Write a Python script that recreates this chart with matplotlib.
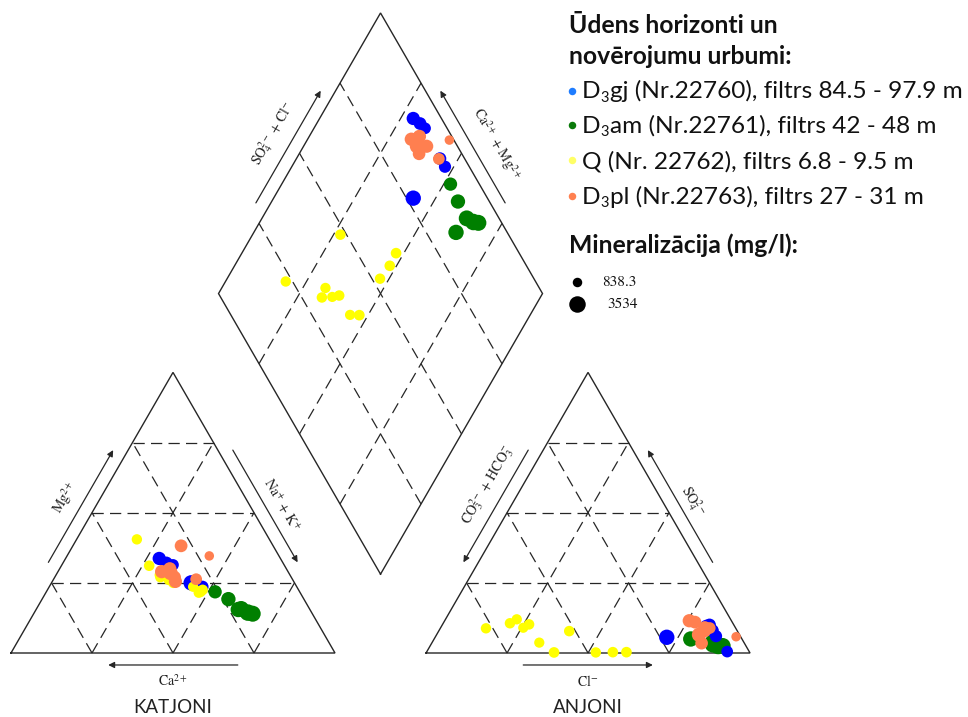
import numpy as np
import matplotlib
matplotlib.use("Agg")
import matplotlib.pyplot as plt

plt.rcParams["mathtext.fontset"] = "stix"

# ---------------------------------------------------------------- data
# Cation shares (% meq): Ca2+, Mg2+, Na+ + K+ ; anion shares: HCO3- + CO3 2-, SO4 2-, Cl-
# Mineralization in mg/l sets the marker size.

# D3gj (Nr.22760)
gj_ca   = [37.4, 36.0, 34.3, 30.3, 29.1, 31.9]
gj_mg   = [33.7, 32.1, 31.4, 25.4, 23.6, 25.0]
gj_nak  = [28.9, 31.9, 34.3, 44.3, 47.3, 43.1]
gj_hco3 = [8.7, 7.5, 6.8, 7.6, 7.5, 22.9]
gj_so4  = [9.5, 10.0, 0.5, 8.0, 6.0, 5.6]
gj_cl   = [81.8, 82.5, 92.7, 84.4, 86.5, 71.5]
gj_tds  = [2290, 2080, 1670, 2050, 1880, 3100]

# D3am (Nr.22761)
am_ca   = [26.1, 23.3, 21.1, 19.7, 18.4, 22.1]
am_mg   = [21.8, 19.2, 15.7, 14.4, 14.0, 15.5]
am_nak  = [52.1, 57.5, 63.2, 65.9, 67.6, 62.4]
am_hco3 = [8.9, 9.7, 10.0, 8.6, 7.2, 15.8]
am_so4  = [3.0, 4.0, 3.0, 2.5, 2.5, 5.0]
am_cl   = [88.1, 86.3, 87.0, 88.9, 90.3, 79.2]
am_tds  = [2300, 2700, 3300, 3534, 3350, 3100]

# Q (Nr. 22762)
q_ca   = [40.9, 41.8, 40.2, 40.4, 38.3, 37.4, 32.0, 30.7, 31.3, 29.6, 30.6]
q_mg   = [40.5, 31.1, 27.8, 27.0, 26.0, 25.0, 23.6, 22.0, 21.5, 22.5, 21.8]
q_nak  = [18.6, 27.1, 32.0, 32.6, 35.7, 37.6, 44.4, 47.3, 47.2, 47.9, 47.6]
q_hco3 = [77.1, 51.9, 66.0, 68.8, 65.5, 63.1, 63.2, 60.4, 47.5, 42.2, 38.0]
q_so4  = [8.8, 7.8, 12.0, 10.6, 9.0, 10.2, 3.7, 0.2, 0.2, 0.3, 0.3]
q_cl   = [14.1, 40.3, 22.0, 20.6, 25.5, 26.7, 33.1, 39.4, 52.3, 57.5, 61.7]
q_tds  = [1180, 1250, 1150, 1210, 1100, 1230, 1120, 1300, 1190, 1260, 1280]

# D3pl (Nr.22763)
pl_ca   = [28.4, 21.5, 29.7, 39.0, 36.0, 36.5, 36.5, 36.0]
pl_mg   = [38.2, 34.6, 26.3, 29.0, 27.0, 25.5, 28.5, 30.0]
pl_nak  = [33.4, 43.9, 44.0, 32.0, 37.0, 38.0, 35.0, 34.0]
pl_hco3 = [11.5, 1.4, 8.0, 13.0, 13.2, 9.5, 12.5, 10.0]
pl_so4  = [11.0, 5.8, 8.9, 11.5, 3.5, 9.0, 6.5, 8.0]
pl_cl   = [77.5, 92.8, 83.1, 75.5, 83.3, 81.5, 81.0, 82.0]
pl_tds  = [2100, 838.3, 1700, 2300, 2050, 2250, 2700, 2300]

# legend entries: (text, is_subscript) pieces
series_names = [
    [("D", False), ("3", True), ("gj (Nr.22760), filtrs 84.5 - 97.9 m", False)],
    [("D", False), ("3", True), ("am (Nr.22761), filtrs 42 - 48 m", False)],
    [("Q (Nr. 22762), filtrs 6.8 - 9.5 m", False)],
    [("D", False), ("3", True), ("pl (Nr.22763), filtrs 27 - 31 m", False)],
]
series_colors = ["#0000ff", "#007f00", "#ffff00", "#ff7f50"]
legend_colors = ["#1e7cff", "#0a7a0a", "#ffff66", "#ff8050"]
size_legend_values = [838.3, 3534]

# ---------------------------------------------------------------- layout
W, HPX, DPI = 968, 717, 100
SIDE_PX = 324.0
ORIGIN = (11.0, 653.0)           # left corner of the cation triangle, in pixels
GAP = 0.281                      # gap between the two triangles (in side lengths)
H = np.sqrt(3) / 2
XA = 1 + GAP                     # left corner of the anion triangle
BOT = np.array([1 + GAP / 2, GAP * H])
D_MIN, D_MAX = 9.5, 16.5         # marker diameters in pixels
EDGE = "#262626"
DASH = (0, (9, 5))

fig = plt.figure(figsize=(W / DPI, HPX / DPI), dpi=DPI)
ax = fig.add_axes([0, 0, 1, 1])
ax.set_xlim(-ORIGIN[0] / SIDE_PX, (W - ORIGIN[0]) / SIDE_PX)
ax.set_ylim((ORIGIN[1] - HPX) / SIDE_PX, ORIGIN[1] / SIDE_PX)
ax.axis("off")


def cation_xy(ca, mg, nak):
    ca, mg, nak = map(np.asarray, (ca, mg, nak))
    tot = ca + mg + nak
    m, n = mg / tot, nak / tot
    return n + m / 2, m * H


def anion_xy(hco3, so4, cl):
    hco3, so4, cl = map(np.asarray, (hco3, so4, cl))
    tot = hco3 + so4 + cl
    s, c = so4 / tot, cl / tot
    return XA + c + s / 2, s * H


def diamond_xy(ca, mg, nak, hco3, so4, cl):
    ca, mg, nak, hco3, so4, cl = map(np.asarray, (ca, mg, nak, hco3, so4, cl))
    cam = (ca + mg) / (ca + mg + nak)
    scl = (so4 + cl) / (hco3 + so4 + cl)
    return BOT[0] + 0.5 * (scl - cam), BOT[1] + H * (scl + cam)


def marker_area(tds):
    tds = np.asarray(tds, dtype=float)
    d = D_MIN + (D_MAX - D_MIN) * (tds - size_legend_values[0]) / (size_legend_values[1] - size_legend_values[0])
    return (d * 72.0 / DPI) ** 2


# ---------------------------------------------------------------- frames
def triangle(x0):
    ax.plot([x0, x0 + 1, x0 + 0.5, x0], [0, 0, H, 0], color=EDGE, lw=1.0,
            solid_joinstyle="miter")
    for f in (0.25, 0.5, 0.75):
        kw = dict(color=EDGE, lw=0.9, linestyle=DASH)
        ax.plot([x0 + f / 2, x0 + 1 - f / 2], [f * H, f * H], **kw)
        ax.plot([x0 + f, x0 + f + 0.5 * (1 - f)], [0, H * (1 - f)], **kw)
        ax.plot([x0 + f, x0 + f / 2], [0, H * f], **kw)


triangle(0.0)
triangle(XA)

up_r = np.array([0.5, H])
up_l = np.array([-0.5, H])
L = BOT + up_l
R = BOT + up_r
T = BOT + up_r + up_l
dia = np.array([BOT, R, T, L, BOT])
ax.plot(dia[:, 0], dia[:, 1], color=EDGE, lw=1.0, solid_joinstyle="miter")
for f in (0.25, 0.5, 0.75):
    p0, p1 = BOT + f * up_r, BOT + f * up_r + up_l
    ax.plot([p0[0], p1[0]], [p0[1], p1[1]], color=EDGE, lw=0.9, linestyle=DASH)
    p0, p1 = BOT + f * up_l, BOT + f * up_l + up_r
    ax.plot([p0[0], p1[0]], [p0[1], p1[1]], color=EDGE, lw=0.9, linestyle=DASH)


# ---------------------------------------------------------------- arrows & axis labels
def arrow(p0, p1):
    ax.annotate("", xy=p1, xytext=p0,
                arrowprops=dict(arrowstyle="-|>", color=EDGE, lw=0.9,
                                mutation_scale=9, shrinkA=0, shrinkB=0))


def side_point(start, direction, normal, t, d):
    return np.asarray(start) + t * np.asarray(direction) + d * np.asarray(normal)


n_left = np.array([-H, 0.5])
n_right = np.array([H, 0.5])
OFF = 0.04
lab_kw = dict(fontfamily="STIXGeneral", fontsize=10, ha="center", va="center",
              rotation_mode="anchor", color="#222222")

# cation triangle
arrow(side_point((0, 0), up_r, n_left, 0.3, OFF), side_point((0, 0), up_r, n_left, 0.7, OFF))
arrow(side_point((1, 0), up_l, n_right, 0.7, OFF), side_point((1, 0), up_l, n_right, 0.3, OFF))
arrow((0.70, -0.037), (0.30, -0.037))
ax.text(*side_point((0, 0), up_r, n_left, 0.50, 0.095), r"Mg$^{2+}$", rotation=60, **lab_kw)
ax.text(*side_point((1, 0), up_l, n_right, 0.48, 0.087), r"Na$^{+}$ + K$^{+}$", rotation=-60, **lab_kw)
ax.text(0.5, -0.088, r"Ca$^{2+}$", **lab_kw)

# anion triangle
arrow(side_point((XA, 0), up_r, n_left, 0.7, OFF), side_point((XA, 0), up_r, n_left, 0.3, OFF))
arrow(side_point((XA + 1, 0), up_l, n_right, 0.3, OFF), side_point((XA + 1, 0), up_l, n_right, 0.7, OFF))
arrow((XA + 0.30, -0.037), (XA + 0.70, -0.037))
ax.text(*side_point((XA, 0), up_r, n_left, 0.545, 0.094), r"CO$_3^{2-}$ + HCO$_3^{-}$", rotation=60, **lab_kw)
ax.text(*side_point((XA + 1, 0), up_l, n_right, 0.494, 0.082), r"SO$_4^{2-}$", rotation=-60, **lab_kw)
ax.text(XA + 0.5, -0.088, r"Cl$^{-}$", **lab_kw)

# diamond
arrow(side_point(L, up_r, n_left, 0.3, OFF), side_point(L, up_r, n_left, 0.7, OFF))
arrow(side_point(R, up_l, n_right, 0.3, OFF), side_point(R, up_l, n_right, 0.7, OFF))
ax.text(*side_point(L, up_r, n_left, 0.513, 0.100), r"SO$_4^{2-}$ + Cl$^{-}$", rotation=60, **lab_kw)
ax.text(*side_point(R, up_l, n_right, 0.471, 0.108), r"Ca$^{2+}$ + Mg$^{2+}$", rotation=-60, **lab_kw)

ax.text(0.5, -0.167, "KATJONI", fontfamily=["Lato", "DejaVu Sans"], fontsize=13.5,
        ha="center", va="center", color="#222222")
ax.text(XA + 0.5, -0.167, "ANJONI", fontfamily=["Lato", "DejaVu Sans"], fontsize=13.5,
        ha="center", va="center", color="#222222")

# ---------------------------------------------------------------- samples
samples = [
    (gj_ca, gj_mg, gj_nak, gj_hco3, gj_so4, gj_cl, gj_tds, series_colors[0]),
    (am_ca, am_mg, am_nak, am_hco3, am_so4, am_cl, am_tds, series_colors[1]),
    (q_ca, q_mg, q_nak, q_hco3, q_so4, q_cl, q_tds, series_colors[2]),
    (pl_ca, pl_mg, pl_nak, pl_hco3, pl_so4, pl_cl, pl_tds, series_colors[3]),
]
draw_order = [1, 0, 2, 3]
for z, i in enumerate(draw_order):
    ca, mg, nak, hco3, so4, cl, tds, col = samples[i]
    s = marker_area(tds)
    for x, y in (cation_xy(ca, mg, nak), anion_xy(hco3, so4, cl),
                 diamond_xy(ca, mg, nak, hco3, so4, cl)):
        ax.scatter(x, y, s=s, color=col, linewidths=0, zorder=3 + z)

# ---------------------------------------------------------------- legend block
lax = fig.add_axes([0, 0, 1, 1], facecolor="none")
lax.set_xlim(0, W)
lax.set_ylim(HPX, 0)
lax.axis("off")
renderer = fig.canvas.get_renderer()
sans = ["Lato", "DejaVu Sans"]


def fit_width(t, px):
    w = t.get_window_extent(renderer).width
    t.set_fontsize(t.get_fontsize() * px / w)
    return t.get_fontsize()


def rich_text(x, y, parts, fs):
    for txt, sub in parts:
        t = lax.text(x, y + (3.0 if sub else 0.0), txt, fontfamily=sans,
                     fontsize=fs * (0.6 if sub else 1.0), va="baseline",
                     color="#111111")
        x += t.get_window_extent(renderer).width + (0.5 if sub else 0.0)
    return x


t1 = lax.text(569, 33, "Ūdens horizonti un", fontfamily=sans, fontweight="bold",
              fontsize=15, va="baseline", color="#111111")
fs_title = fit_width(t1, 210)
lax.text(569, 64, "novērojumu urbumi:", fontfamily=sans, fontweight="bold",
         fontsize=fs_title, va="baseline", color="#111111")
lax.text(569, 253, "Mineralizācija (mg/l):", fontfamily=sans, fontweight="bold",
         fontsize=fs_title, va="baseline", color="#111111")

# font size chosen so the longest entry spans the block width
probe = lax.text(0, 0, "".join(p for p, _ in series_names[0]), fontfamily=sans, fontsize=14.5)
w_probe = probe.get_window_extent(renderer).width
probe.remove()
fs_item = 14.5 * 385.0 / w_probe

item_base = [98.5, 133, 168, 204]
for k, (parts, col) in enumerate(zip(series_names, legend_colors)):
    rich_text(582, item_base[k], parts, fs_item)
    lax.scatter([572], [item_base[k] - 8], s=(7.5 * 72 / DPI) ** 2, color=col, linewidths=0)

for yv, val, xt in zip([282, 304], size_legend_values, [602, 607]):
    lax.scatter([576.5], [yv], s=marker_area(val), color="black", linewidths=0)
    lax.text(xt, yv, f"{val:g}", fontfamily="STIXGeneral", fontsize=11,
             va="center", color="#111111")

fig.savefig("out.png", dpi=DPI)
